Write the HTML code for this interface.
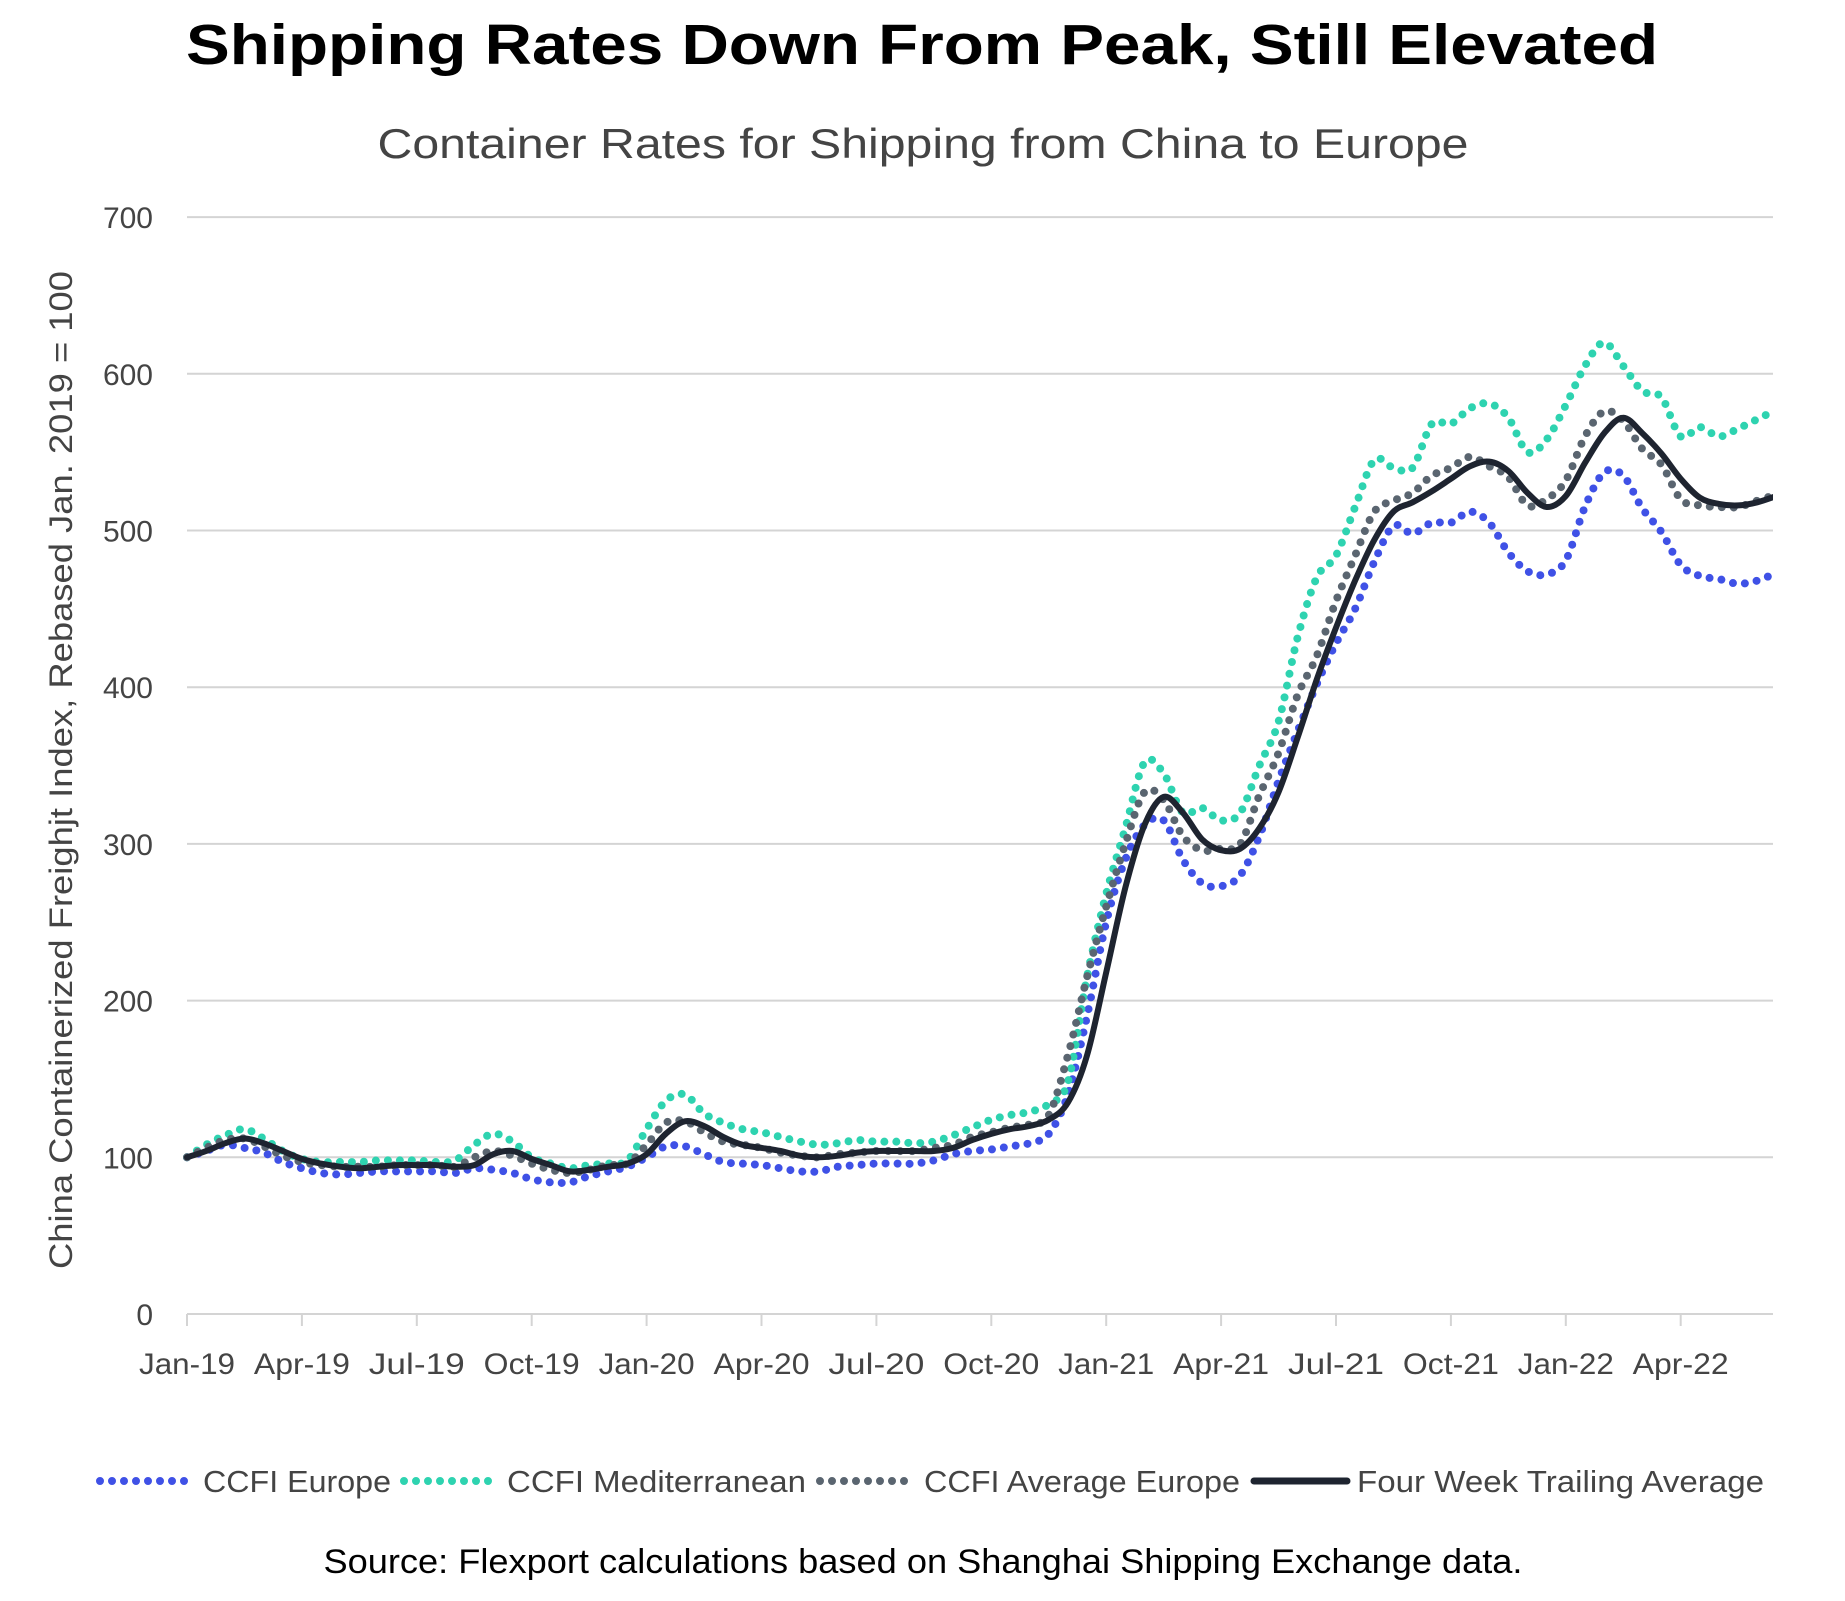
<!DOCTYPE html>
<html><head><meta charset="utf-8"><style>
html,body{margin:0;padding:0;background:#fff;}
svg{display:block;font-family:"Liberation Sans",Arial,sans-serif;}
</style></head><body>
<svg id="chart" width="1845" height="1601" viewBox="0 0 1845 1601">
<text x="922" y="64" text-anchor="middle" font-size="57" font-weight="bold" fill="#000" textLength="1472" lengthAdjust="spacingAndGlyphs">Shipping Rates Down From Peak, Still Elevated</text>
<text x="923" y="158" text-anchor="middle" font-size="42" fill="#444" textLength="1091" lengthAdjust="spacingAndGlyphs">Container Rates for Shipping from China to Europe</text>
<text transform="translate(72,770) rotate(-90)" text-anchor="middle" font-size="32" fill="#444" textLength="998" lengthAdjust="spacingAndGlyphs">China Containerized Freighjt Index, Rebased Jan. 2019 = 100</text>
<g id="grid"></g>
<g id="xaxis"></g>
<defs><clipPath id="plotclip"><rect x="180" y="150" width="1593" height="1180"/></clipPath></defs>
<g id="series" clip-path="url(#plotclip)"></g>
<g id="legend">
<line x1="100" y1="1481" x2="189" y2="1481" stroke="#3f51e6" stroke-width="8" stroke-linecap="round" stroke-dasharray="0 12"/>
<text x="203" y="1492" font-size="31" fill="#444" textLength="188" lengthAdjust="spacingAndGlyphs">CCFI Europe</text>
<line x1="404" y1="1481" x2="496" y2="1481" stroke="#2ed3b0" stroke-width="8" stroke-linecap="round" stroke-dasharray="0 12"/>
<text x="507" y="1492" font-size="31" fill="#444" textLength="299" lengthAdjust="spacingAndGlyphs">CCFI Mediterranean</text>
<line x1="820" y1="1481" x2="906" y2="1481" stroke="#5a6570" stroke-width="8" stroke-linecap="round" stroke-dasharray="0 12"/>
<text x="924" y="1492" font-size="31" fill="#444" textLength="316" lengthAdjust="spacingAndGlyphs">CCFI Average Europe</text>
<line x1="1254" y1="1481" x2="1347" y2="1481" stroke="#1e2430" stroke-width="7" stroke-linecap="round"/>
<text x="1357" y="1492" font-size="31" fill="#444" textLength="407" lengthAdjust="spacingAndGlyphs">Four Week Trailing Average</text>
</g>
<text x="923" y="1573" text-anchor="middle" font-size="34" fill="#000" textLength="1199" lengthAdjust="spacingAndGlyphs">Source: Flexport calculations based on Shanghai Shipping Exchange data.</text>
</svg>
<script>
const yTicks = [0,100,200,300,400,500,600,700];
const xTickLabels = ["Jan-19","Apr-19","Jul-19","Oct-19","Jan-20","Apr-20","Jul-20","Oct-20","Jan-21","Apr-21","Jul-21","Oct-21","Jan-22","Apr-22"];
const xTickMonths = [0,3,6,9,12,15,18,21,24,27,30,33,36,39];
const months = [0,0.5,1,1.5,2,2.5,3,3.5,4,4.5,5,5.5,6,6.5,7,7.5,8,8.5,9,9.5,10,10.5,11,11.5,12,12.5,13,13.5,14,14.5,15,15.5,16,16.5,17,17.5,18,18.5,19,19.5,20,20.5,21,21.5,22,22.5,23,23.5,24,24.5,25,25.5,26,26.5,27,27.5,28,28.5,29,29.5,30,30.5,31,31.5,32,32.5,33,33.5,34,34.5,35,35.5,36,36.5,37,37.5,38,38.5,39,39.5,40,40.5,41,41.5];
const europe = [100,104,108,106,103,97,93,90,89,90,91,91,91,91,90,93,92,90,86,84,84,88,91,94,100,107,107,102,97,96,95,93,91,91,94,95,96,96,96,98,102,104,105,107,109,115,140,190,250,290,312,315,290,275,273,280,305,340,372,402,428,450,480,503,498,505,505,512,505,486,474,472,481,515,537,535,514,499,478,471,469,466,468,473];
const mediterranean = [100,108,114,118,112,104,99,97,97,97,98,98,98,97,98,108,115,110,100,96,93,95,96,98,118,136,140,128,122,118,116,113,110,108,109,111,110,110,109,110,114,119,124,127,129,134,148,215,268,310,352,345,320,323,315,320,350,378,432,470,484,515,545,540,540,568,568,578,581,572,550,558,580,605,620,605,589,585,560,566,560,565,571,577];
const averageEurope = [100,106,111,112,107,101,97,95,94,94,94,95,95,95,94,100,104,101,96,92,90,92,95,96,108,122,123,116,110,108,106,103,101,100,102,103,104,104,104,106,108,113,116,119,121,127,165,215,260,300,333,328,305,296,297,300,331,358,395,420,455,484,512,519,524,535,540,547,541,534,516,520,532,560,576,570,552,542,520,516,515,515,519,523];
const fourWeekAvg = [100,104,109,112,109,104,99,96,94,93,94,95,95,95,94,95,102,104,99,95,91,92,94,96,102,115,123,120,113,108,106,104,101,100,101,103,104,104,104,104,106,111,115,118,120,124,135,165,218,272,312,330,320,303,296,297,310,333,368,405,438,468,494,512,518,525,533,541,544,538,524,515,522,543,562,572,562,549,533,521,517,516,518,522];

const NS = "http://www.w3.org/2000/svg";
const X0 = 187, PXM = 38.3, Y0 = 1314, PXV = 1.567, XR = 1773;
function xScale(m){ return X0 + m * PXM; }
function yScale(v){ return Y0 - v * PXV; }
function mk(tag, attrs, parent){
  const el = document.createElementNS(NS, tag);
  for (const k in attrs) el.setAttribute(k, attrs[k]);
  parent.appendChild(el);
  return el;
}
const grid = document.getElementById("grid");
yTicks.forEach(function(t){
  const y = yScale(t);
  const ln = mk("line", {x1: X0, x2: XR, y1: y, y2: y, stroke: "#d4d4d4", "stroke-width": 2}, grid);
  
  
  const tx = mk("text", {x: 153, y: y + 11, "text-anchor": "end", "font-size": 30, fill: "#444"}, grid);
  tx.textContent = String(t);
  
  
});
const xaxis = document.getElementById("xaxis");
xTickMonths.forEach(function(m, i){
  const x = xScale(m);
  const tk = mk("line", {x1: x, x2: x, y1: Y0, y2: Y0 + 12, stroke: "#d4d4d4", "stroke-width": 2}, xaxis);
  
  
  const tx = mk("text", {x: x, y: 1374, "text-anchor": "middle", "font-size": 30, fill: "#444", textLength: 96, lengthAdjust: "spacingAndGlyphs"}, xaxis);
  tx.textContent = xTickLabels[i];
  
  
});
function smoothPath(vals){
  const p = vals.map(function(v, i){ return [xScale(months[i]), yScale(v)]; });
  let d = "M" + p[0][0].toFixed(1) + "," + p[0][1].toFixed(1);
  for (let i = 0; i < p.length - 1; i++){
    const a = p[Math.max(i-1,0)], b = p[i], c = p[i+1], e = p[Math.min(i+2,p.length-1)];
    const c1x = b[0] + (c[0]-a[0])/6, c1y = b[1] + (c[1]-a[1])/6;
    const c2x = c[0] - (e[0]-b[0])/6, c2y = c[1] - (e[1]-b[1])/6;
    d += " C" + c1x.toFixed(1) + "," + c1y.toFixed(1) + " " + c2x.toFixed(1) + "," + c2y.toFixed(1) + " " + c[0].toFixed(1) + "," + c[1].toFixed(1);
  }
  return d;
}
const series = document.getElementById("series");
const sEu = mk("path", {d: smoothPath(europe), fill: "none", stroke: "#3f51e6", "stroke-width": 8, "stroke-linecap": "round", "stroke-dasharray": "0 12"}, series);


const sMed = mk("path", {d: smoothPath(mediterranean), fill: "none", stroke: "#2ed3b0", "stroke-width": 8, "stroke-linecap": "round", "stroke-dasharray": "0 12"}, series);


const sAvg = mk("path", {d: smoothPath(averageEurope), fill: "none", stroke: "#5a6570", "stroke-width": 8, "stroke-linecap": "round", "stroke-dasharray": "0 12"}, series);


const sW = mk("path", {d: smoothPath(fourWeekAvg), fill: "none", stroke: "#1e2430", "stroke-width": 6, "stroke-linejoin": "round", "stroke-linecap": "round"}, series);


</script>
</body></html>
